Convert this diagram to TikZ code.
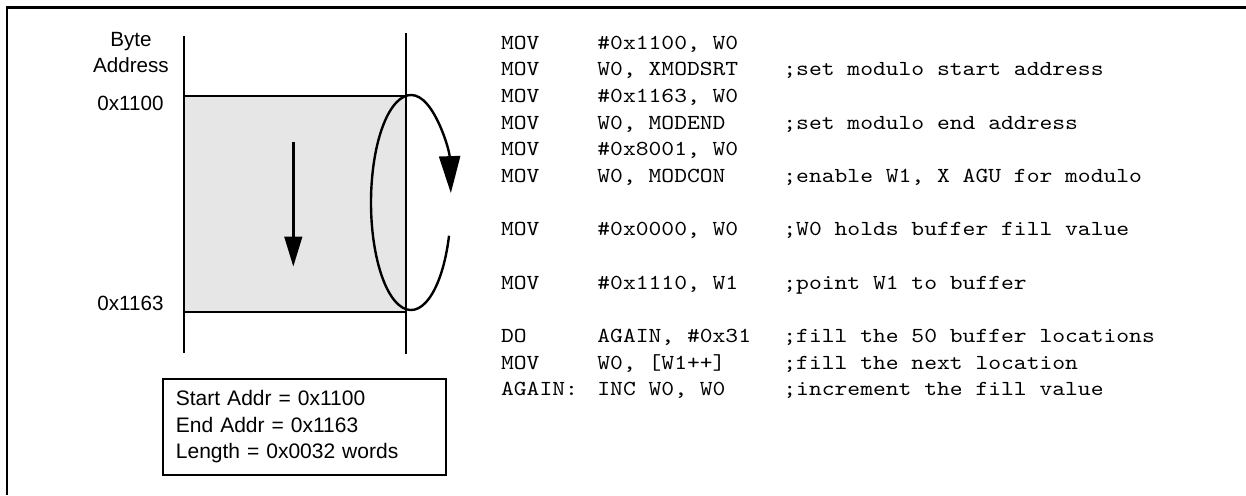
\documentclass[tikz,border=0pt]{standalone}
\usepackage{fontspec}
\setmainfont{Liberation Sans}
\setmonofont{Latin Modern Mono}[FakeStretch=1.14]
\usetikzlibrary{arrows.meta}
\definecolor{bufgray}{HTML}{E6E6E6}

\tikzset{
  lbl/.style={font=\fontsize{10.3}{13.1}\selectfont,inner sep=0pt,anchor=base},
  code/.style={font=\fontsize{10.7}{13.3}\ttfamily,inner sep=0pt,anchor=base west},
  memline/.style={line width=0.9pt},
  infobox/.style={draw,line width=0.9pt,align=left,anchor=north west,
    font=\fontsize{10.5}{13.3}\selectfont,text width=128.5pt,
    inner xsep=6.5pt,inner ysep=5.8pt}
}

\begin{document}
\begin{tikzpicture}[x=0.5pt,y=-0.5pt]
	\useasboundingbox (0,0) rectangle (1246,495);
	% frame
	\draw [line width=1.2pt] (1246,7.3) -| (6.7,495);
	% buffer
	\fill [bufgray] (184.3,96) rectangle (405.7,311.7);
	\draw [memline] (184.3,36)--(184.3,353);
	\draw [memline] (405.7,33)--(405.7,354);
	\draw [memline] (184.3,96)--(405.7,96);
	\draw [memline] (184.3,311.7)--(405.7,311.7);
	\node [lbl] (byte) at (131,46.5) {Byte};
	\node [lbl] (addr) at (131,72.7) {Address};
	\node [lbl] (startlbl) at (130.5,110) {0x1100};
	\node [lbl] (endlbl) at (130.5,310) {0x1163};
	% fill direction
	\coordinate (fillfrom) at (293.3,141.7);
	\coordinate (fillto) at (293.3,266.7);
	\draw [line width=1.5pt,-{Triangle[length=15pt,width=8.7pt]}] (fillfrom)--(fillto);
	% wrap around
	\draw [line width=1.2pt,-{Triangle[length=18.5pt,width=10.5pt]}]
		(411,202.5) ++(18:40 and 107.5) arc [start angle=18,end angle=355,x radius=40,y radius=107.5];
	\node [infobox] (info) at (162,378) {Start Addr = 0x1100\\End Addr = 0x1163\\Length = 0x0032 words};
	% code listing
	\foreach \r/\mnem/\opnd/\note in {
		0/MOV/{\#0x1100, W0}/{},
		1/MOV/{W0, XMODSRT}/{;set modulo start address},
		2/MOV/{\#0x1163, W0}/{},
		3/MOV/{W0, MODEND}/{;set modulo end address},
		4/MOV/{\#0x8001, W0}/{},
		5/MOV/{W0, MODCON}/{;enable W1, X AGU for modulo},
		7/MOV/{\#0x0000, W0}/{;W0 holds buffer fill value},
		9/MOV/{\#0x1110, W1}/{;point W1 to buffer},
		11/DO/{AGAIN, \#0x31}/{;fill the 50 buffer locations},
		12/MOV/{W0, [W1++]}/{;fill the next location},
		13/AGAIN:/{INC W0, W0}/{;increment the fill value}}
	{
		\node [code] (op\r) at (500.7,{49+26.67*\r}) {\mnem};
		\node [code] (arg\r) at (597,{49+26.67*\r}) {\opnd};
		\node [code] (cmt\r) at (783,{49+26.67*\r}) {\note};
	}
\end{tikzpicture}
\end{document}
